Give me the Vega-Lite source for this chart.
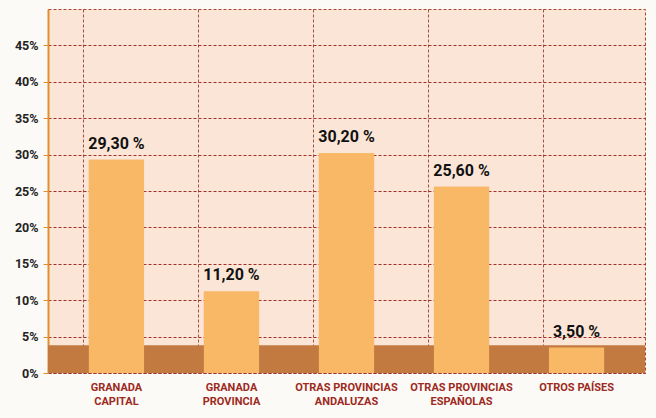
{
  "$schema": "https://vega.github.io/schema/vega-lite/v6.json",
  "width": 597,
  "height": 364,
  "autosize": {"type": "none"},
  "padding": {"left": 48, "top": 9, "right": 11, "bottom": 45},
  "background": "#fcfaf6",
  "view": {"fill": "#fbe5d6", "stroke": "#a8452f", "strokeDash": [3, 2], "strokeWidth": 1},
  "config": {"font": "Roboto"},
  "data": {
    "values": [
      {"origen": "GRANADA|CAPITAL", "porcentaje": 29.3, "etiqueta": "29,30 %"},
      {"origen": "GRANADA|PROVINCIA", "porcentaje": 11.2, "etiqueta": "11,20 %"},
      {"origen": "OTRAS PROVINCIAS|ANDALUZAS", "porcentaje": 30.2, "etiqueta": "30,20 %"},
      {"origen": "OTRAS PROVINCIAS|ESPAÑOLAS", "porcentaje": 25.6, "etiqueta": "25,60 %"},
      {"origen": "OTROS PAÍSES", "porcentaje": 3.5, "etiqueta": "3,50 %"}
    ]
  },
  "layer": [
    {
      "mark": {"type": "bar", "color": "#f8b865"},
      "encoding": {
        "x": {
          "field": "origen",
          "type": "nominal",
          "sort": null,
          "scale": {"paddingInner": 0.52, "paddingOuter": 0.355},
          "axis": {
            "title": null,
            "labelAngle": 0,
            "labelExpr": "split(datum.value, '|')",
            "labelColor": "#9c2a1e",
            "labelFont": "Roboto",
            "labelFontWeight": "bold",
            "labelFontSize": 11,
            "labelLineHeight": 14,
            "labelPadding": 8,
            "ticks": false,
            "domain": false,
            "grid": true,
            "bandPosition": -0.1,
            "gridColor": "#8a2a20",
            "gridDash": [3, 2],
            "gridWidth": 0.8
          }
        },
        "y": {
          "field": "porcentaje",
          "type": "quantitative",
          "scale": {"domain": [0, 50], "nice": false},
          "axis": {
            "title": null,
            "values": [0, 5, 10, 15, 20, 25, 30, 35, 40, 45],
            "labelExpr": "datum.value + '%'",
            "labelColor": "#222222",
            "labelFont": "Roboto",
            "labelFontWeight": "bold",
            "labelFontSize": 12.5,
            "labelPadding": 5,
            "tickColor": "#e0902c",
            "tickSize": 5,
            "domainColor": "#e0902c",
            "domainWidth": 2,
            "grid": true,
            "gridColor": "#a0302a",
            "gridDash": [3, 2],
            "gridWidth": 1
          }
        }
      }
    },
    {
      "data": {"values": [{"suelo": 0, "suelo2": 3.8}]},
      "mark": {"type": "rect", "color": "#c27a40"},
      "encoding": {
        "y": {"field": "suelo", "type": "quantitative"},
        "y2": {"field": "suelo2"}
      }
    },
    {
      "mark": {"type": "bar", "color": "#f8b865"},
      "encoding": {
        "x": {"field": "origen", "type": "nominal", "sort": null},
        "y": {"field": "porcentaje", "type": "quantitative"}
      }
    },
    {
      "mark": {"type": "text", "dy": -16, "fontSize": 16, "fontWeight": "bold", "color": "#111111", "font": "Roboto"},
      "encoding": {
        "x": {"field": "origen", "type": "nominal", "sort": null},
        "y": {"field": "porcentaje", "type": "quantitative"},
        "text": {"field": "etiqueta"}
      }
    }
  ]
}
